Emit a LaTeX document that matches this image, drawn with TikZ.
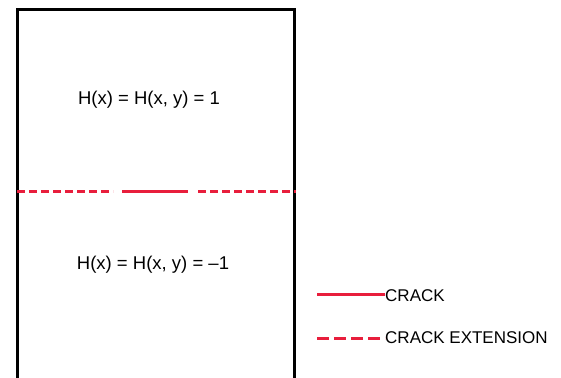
\documentclass[tikz,border=0pt]{standalone}
\usepackage{fontspec}
\setmainfont{Liberation Sans}
\definecolor{crackred}{RGB}{232,30,60}
\begin{document}
\begin{tikzpicture}[x=1pt,y=-1pt,
  frame/.style={line width=3pt,black},
  crackline/.style={line width=3pt,crackred},
  extline/.style={line width=3pt,crackred,dash pattern=on 8pt off 4pt},
  legextline/.style={line width=3pt,crackred,dash pattern=on 12pt off 5pt},
  label/.style={font=\fontsize{18.5}{22}\selectfont,inner sep=0pt},
  legtext/.style={font=\fontsize{17}{20}\selectfont,inner sep=0pt,anchor=base west}]
\useasboundingbox (0,0) rectangle (561,377);
\begin{scope}
\clip (0,0) rectangle (561,377);
\coordinate (bl) at (17,390);
\coordinate (tl) at (17,10);
\coordinate (tr) at (294.5,10);
\coordinate (br) at (294.5,390);
\draw[frame] (bl) -- (tl) -- (tr) -- (br);
\end{scope}
% crack
\coordinate (c0) at (17,191.5);
\coordinate (c1) at (113,191.5);
\coordinate (c2) at (122,191.5);
\coordinate (c3) at (188,191.5);
\coordinate (c4) at (198,191.5);
\coordinate (c5) at (296,191.5);
\draw[extline] (c0) -- (c1);
\draw[crackline] (c2) -- (c3);
\draw[extline] (c4) -- (c5);
% labels
\node[label,anchor=base] (top) at (149,104) {H(x) = H(x, y) = 1};
\node[label,anchor=base] (bot) at (153,269) {H(x) = H(x, y) = \textendash1};
% legend
\node[legtext] (lc) at (385,301) {CRACK};
\node[legtext] (le) at (385,343.5) {CRACK EXTENSION};
\coordinate (l1a) at (317,294);
\coordinate (l2a) at (317,338);
\draw[crackline] (l1a) -- (lc.west |- l1a);
\draw[legextline] (l2a) -- (le.west |- l2a);
\end{tikzpicture}
\end{document}
